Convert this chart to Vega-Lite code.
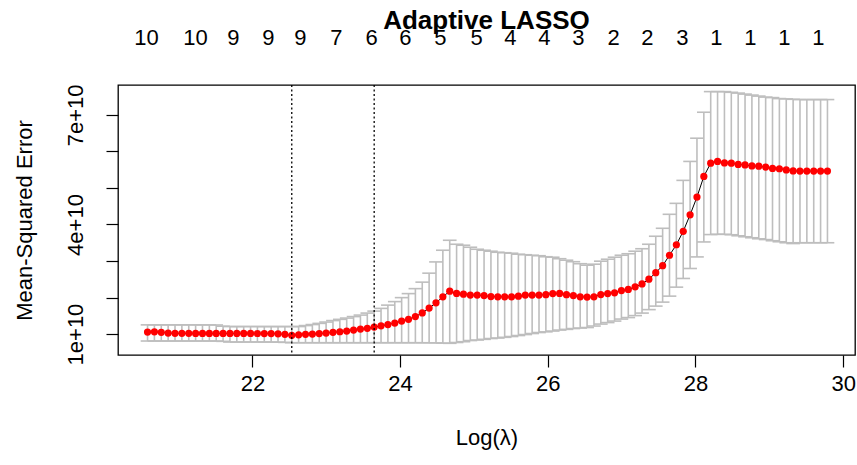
{
  "$schema": "https://vega.github.io/schema/vega-lite/v6.json",
  "width": 737,
  "height": 270,
  "autosize": "none",
  "padding": {"left": 118, "top": 85, "right": 2, "bottom": 110},
  "background": "white",
  "config": {
    "font": "Liberation Sans",
    "view": {"stroke": "black", "strokeWidth": 1.3},
    "axis": {"grid": false, "domain": false, "labelColor": "black", "titleColor": "black", "tickColor": "black", "labelFont": "Liberation Sans", "titleFont": "Liberation Sans"}
  },
  "title": {"text": "Adaptive LASSO", "fontSize": 26, "fontWeight": "bold", "font": "Liberation Sans", "anchor": "middle", "baseline": "alphabetic", "offset": -29, "color": "black"},
  "data": {"values": [
    {"x":20.580,"m":1.055e10,"lo":0.809e10,"hi":1.251e10},
    {"x":20.673,"m":1.060e10,"lo":0.809e10,"hi":1.251e10},
    {"x":20.766,"m":1.046e10,"lo":0.809e10,"hi":1.251e10},
    {"x":20.859,"m":1.027e10,"lo":0.809e10,"hi":1.251e10},
    {"x":20.952,"m":1.020e10,"lo":0.809e10,"hi":1.251e10},
    {"x":21.045,"m":1.019e10,"lo":0.809e10,"hi":1.251e10},
    {"x":21.138,"m":1.019e10,"lo":0.809e10,"hi":1.251e10},
    {"x":21.231,"m":1.018e10,"lo":0.809e10,"hi":1.251e10},
    {"x":21.324,"m":1.018e10,"lo":0.809e10,"hi":1.250e10},
    {"x":21.417,"m":1.018e10,"lo":0.809e10,"hi":1.250e10},
    {"x":21.510,"m":1.017e10,"lo":0.808e10,"hi":1.248e10},
    {"x":21.603,"m":1.017e10,"lo":0.800e10,"hi":1.215e10},
    {"x":21.696,"m":1.017e10,"lo":0.781e10,"hi":1.205e10},
    {"x":21.789,"m":1.016e10,"lo":0.781e10,"hi":1.205e10},
    {"x":21.882,"m":1.016e10,"lo":0.781e10,"hi":1.205e10},
    {"x":21.975,"m":1.016e10,"lo":0.781e10,"hi":1.205e10},
    {"x":22.068,"m":1.015e10,"lo":0.781e10,"hi":1.205e10},
    {"x":22.161,"m":1.014e10,"lo":0.781e10,"hi":1.205e10},
    {"x":22.254,"m":1.012e10,"lo":0.781e10,"hi":1.205e10},
    {"x":22.347,"m":1.005e10,"lo":0.778e10,"hi":1.205e10},
    {"x":22.440,"m":0.992e10,"lo":0.772e10,"hi":1.205e10},
    {"x":22.533,"m":0.964e10,"lo":0.762e10,"hi":1.205e10},
    {"x":22.626,"m":0.978e10,"lo":0.762e10,"hi":1.205e10},
    {"x":22.719,"m":0.992e10,"lo":0.762e10,"hi":1.232e10},
    {"x":22.812,"m":1.000e10,"lo":0.762e10,"hi":1.260e10},
    {"x":22.905,"m":1.014e10,"lo":0.762e10,"hi":1.292e10},
    {"x":22.998,"m":1.027e10,"lo":0.762e10,"hi":1.328e10},
    {"x":23.091,"m":1.046e10,"lo":0.762e10,"hi":1.369e10},
    {"x":23.184,"m":1.063e10,"lo":0.762e10,"hi":1.402e10},
    {"x":23.277,"m":1.082e10,"lo":0.762e10,"hi":1.437e10},
    {"x":23.370,"m":1.109e10,"lo":0.762e10,"hi":1.478e10},
    {"x":23.463,"m":1.137e10,"lo":0.762e10,"hi":1.519e10},
    {"x":23.556,"m":1.156e10,"lo":0.762e10,"hi":1.574e10},
    {"x":23.649,"m":1.191e10,"lo":0.762e10,"hi":1.628e10},
    {"x":23.742,"m":1.224e10,"lo":0.762e10,"hi":1.702e10},
    {"x":23.835,"m":1.260e10,"lo":0.762e10,"hi":1.792e10},
    {"x":23.928,"m":1.301e10,"lo":0.762e10,"hi":1.888e10},
    {"x":24.021,"m":1.355e10,"lo":0.762e10,"hi":1.997e10},
    {"x":24.114,"m":1.402e10,"lo":0.762e10,"hi":2.107e10},
    {"x":24.207,"m":1.478e10,"lo":0.762e10,"hi":2.243e10},
    {"x":24.300,"m":1.579e10,"lo":0.762e10,"hi":2.421e10},
    {"x":24.393,"m":1.710e10,"lo":0.760e10,"hi":2.667e10},
    {"x":24.486,"m":1.855e10,"lo":0.757e10,"hi":2.975e10},
    {"x":24.579,"m":2.019e10,"lo":0.752e10,"hi":3.295e10},
    {"x":24.672,"m":2.175e10,"lo":0.746e10,"hi":3.568e10},
    {"x":24.765,"m":2.112e10,"lo":0.768e10,"hi":3.459e10},
    {"x":24.858,"m":2.093e10,"lo":0.790e10,"hi":3.432e10},
    {"x":24.951,"m":2.066e10,"lo":0.822e10,"hi":3.377e10},
    {"x":25.044,"m":2.066e10,"lo":0.836e10,"hi":3.322e10},
    {"x":25.137,"m":2.052e10,"lo":0.855e10,"hi":3.295e10},
    {"x":25.230,"m":2.025e10,"lo":0.877e10,"hi":3.268e10},
    {"x":25.323,"m":2.019e10,"lo":0.891e10,"hi":3.240e10},
    {"x":25.416,"m":2.019e10,"lo":0.910e10,"hi":3.227e10},
    {"x":25.509,"m":2.019e10,"lo":0.932e10,"hi":3.213e10},
    {"x":25.602,"m":2.038e10,"lo":0.959e10,"hi":3.186e10},
    {"x":25.695,"m":2.066e10,"lo":0.986e10,"hi":3.172e10},
    {"x":25.788,"m":2.066e10,"lo":1.014e10,"hi":3.158e10},
    {"x":25.881,"m":2.066e10,"lo":1.041e10,"hi":3.145e10},
    {"x":25.974,"m":2.079e10,"lo":1.060e10,"hi":3.117e10},
    {"x":26.067,"m":2.107e10,"lo":1.082e10,"hi":3.104e10},
    {"x":26.160,"m":2.112e10,"lo":1.109e10,"hi":3.063e10},
    {"x":26.253,"m":2.079e10,"lo":1.128e10,"hi":3.022e10},
    {"x":26.346,"m":2.052e10,"lo":1.150e10,"hi":2.981e10},
    {"x":26.439,"m":2.019e10,"lo":1.164e10,"hi":2.926e10},
    {"x":26.532,"m":2.011e10,"lo":1.178e10,"hi":2.885e10},
    {"x":26.625,"m":2.019e10,"lo":1.219e10,"hi":2.913e10},
    {"x":26.718,"m":2.080e10,"lo":1.273e10,"hi":2.995e10},
    {"x":26.811,"m":2.107e10,"lo":1.314e10,"hi":3.049e10},
    {"x":26.904,"m":2.128e10,"lo":1.355e10,"hi":3.104e10},
    {"x":26.997,"m":2.189e10,"lo":1.410e10,"hi":3.158e10},
    {"x":27.090,"m":2.221e10,"lo":1.451e10,"hi":3.199e10},
    {"x":27.183,"m":2.292e10,"lo":1.505e10,"hi":3.268e10},
    {"x":27.276,"m":2.372e10,"lo":1.574e10,"hi":3.336e10},
    {"x":27.369,"m":2.503e10,"lo":1.669e10,"hi":3.459e10},
    {"x":27.462,"m":2.680e10,"lo":1.765e10,"hi":3.678e10},
    {"x":27.555,"m":2.872e10,"lo":1.874e10,"hi":3.896e10},
    {"x":27.648,"m":3.158e10,"lo":2.038e10,"hi":4.279e10},
    {"x":27.741,"m":3.445e10,"lo":2.284e10,"hi":4.579e10},
    {"x":27.834,"m":3.814e10,"lo":2.522e10,"hi":5.208e10},
    {"x":27.927,"m":4.265e10,"lo":2.795e10,"hi":5.727e10},
    {"x":28.020,"m":4.751e10,"lo":3.112e10,"hi":6.363e10},
    {"x":28.113,"m":5.317e10,"lo":3.522e10,"hi":7.074e10},
    {"x":28.206,"m":5.680e10,"lo":3.724e10,"hi":7.639e10},
    {"x":28.299,"m":5.727e10,"lo":3.732e10,"hi":7.639e10},
    {"x":28.392,"m":5.686e10,"lo":3.732e10,"hi":7.639e10},
    {"x":28.485,"m":5.680e10,"lo":3.719e10,"hi":7.620e10},
    {"x":28.578,"m":5.645e10,"lo":3.691e10,"hi":7.598e10},
    {"x":28.671,"m":5.631e10,"lo":3.664e10,"hi":7.571e10},
    {"x":28.764,"m":5.604e10,"lo":3.637e10,"hi":7.544e10},
    {"x":28.857,"m":5.598e10,"lo":3.609e10,"hi":7.516e10},
    {"x":28.950,"m":5.571e10,"lo":3.587e10,"hi":7.489e10},
    {"x":29.043,"m":5.536e10,"lo":3.555e10,"hi":7.475e10},
    {"x":29.136,"m":5.527e10,"lo":3.527e10,"hi":7.448e10},
    {"x":29.229,"m":5.495e10,"lo":3.500e10,"hi":7.440e10},
    {"x":29.322,"m":5.467e10,"lo":3.478e10,"hi":7.429e10},
    {"x":29.415,"m":5.462e10,"lo":3.500e10,"hi":7.421e10},
    {"x":29.508,"m":5.462e10,"lo":3.500e10,"hi":7.421e10},
    {"x":29.601,"m":5.462e10,"lo":3.500e10,"hi":7.421e10},
    {"x":29.694,"m":5.462e10,"lo":3.500e10,"hi":7.421e10},
    {"x":29.787,"m":5.462e10,"lo":3.500e10,"hi":7.421e10}
  ]},
  "layer": [
    {
      "mark": {"type": "rule", "color": "#bebebe", "strokeWidth": 1.6},
      "encoding": {
        "x": {"field": "x", "type": "quantitative", "scale": {"domain": [20.18, 30.16], "nice": false, "zero": false},
          "axis": {"orient": "bottom", "values": [22, 24, 26, 28, 30], "tickSize": 12, "tickWidth": 1.2, "labelPadding": 6, "labelFontSize": 22, "labelFlush": false, "labelOverlap": false, "title": "Log(λ)", "titleFontSize": 22, "titleFontWeight": "normal", "titlePadding": 33}},
        "y": {"field": "lo", "type": "quantitative", "scale": {"domain": [0.426e10, 7.82e10], "nice": false, "zero": false},
          "axis": {"values": [1e10, 2e10, 3e10, 4e10, 5e10, 6e10, 7e10], "labelExpr": "datum.value == 1e10 ? '1e+10' : datum.value == 4e10 ? '4e+10' : datum.value == 7e10 ? '7e+10' : ''", "labelAngle": 270, "labelAlign": "center", "labelBaseline": "alphabetic", "tickSize": 12, "tickWidth": 1.2, "labelPadding": 24, "labelFontSize": 22, "labelFlush": false, "labelOverlap": false, "title": "Mean-Squared Error", "titleFontSize": 22, "titleFontWeight": "normal", "titlePadding": 28}},
        "y2": {"field": "hi"}
      }
    },
    {
      "mark": {"type": "tick", "orient": "horizontal", "size": 13.7, "thickness": 1.6, "color": "#bebebe", "opacity": 1},
      "encoding": {
        "x": {"field": "x", "type": "quantitative", "axis": null},
        "y": {"field": "hi", "type": "quantitative", "title": "Mean-Squared Error"}
      }
    },
    {
      "mark": {"type": "tick", "orient": "horizontal", "size": 13.7, "thickness": 1.6, "color": "#bebebe", "opacity": 1},
      "encoding": {
        "x": {"field": "x", "type": "quantitative", "axis": null},
        "y": {"field": "lo", "type": "quantitative", "title": "Mean-Squared Error"}
      }
    },
    {
      "mark": {"type": "line", "color": "black", "strokeWidth": 1},
      "encoding": {
        "x": {"field": "x", "type": "quantitative", "axis": null},
        "y": {"field": "m", "type": "quantitative", "title": "Mean-Squared Error"}
      }
    },
    {
      "mark": {"type": "point", "filled": true, "color": "red", "size": 52, "opacity": 1, "strokeWidth": 0},
      "encoding": {
        "x": {"field": "x", "type": "quantitative", "axis": null},
        "y": {"field": "m", "type": "quantitative", "title": "Mean-Squared Error"}
      }
    },
    {
      "data": {"values": [{"x": 22.533}, {"x": 23.649}]},
      "mark": {"type": "rule", "color": "black", "strokeWidth": 1.3, "strokeDash": [2, 2.5]},
      "encoding": {
        "x": {"field": "x", "type": "quantitative",
          "axis": {"orient": "top", "values": [20.559, 21.223, 21.737, 22.211, 22.644, 23.132, 23.606, 24.066, 24.540, 25.028, 25.488, 25.948, 26.409, 26.883, 27.343, 27.817, 28.277, 28.738, 29.198, 29.658],
            "labelExpr": "['10','10','9','9','9','7','6','6','5','5','4','4','3','2','2','3','1','1','1','1'][indexof([20.559, 21.223, 21.737, 22.211, 22.644, 23.132, 23.606, 24.066, 24.540, 25.028, 25.488, 25.948, 26.409, 26.883, 27.343, 27.817, 28.277, 28.738, 29.198, 29.658], datum.value)]",
            "ticks": false, "tickSize": 0, "labelPadding": 36, "labelFontSize": 22, "labelFlush": false, "labelOverlap": false, "labelBaseline": "bottom", "title": null}}
      }
    }
  ],
  "resolve": {"axis": {"x": "independent"}}
}
